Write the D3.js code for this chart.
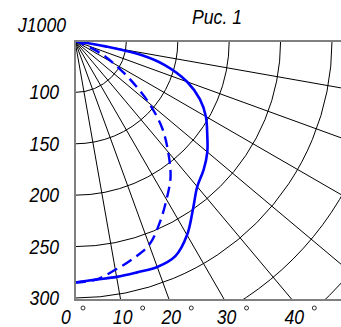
<!DOCTYPE html>
<html>
<head>
<meta charset="utf-8">
<script src="https://cdn.jsdelivr.net/npm/d3@7"></script>
<style>
  body { margin: 0; background: #fff; }
  text { font-family: "Liberation Sans", Arial, sans-serif; font-style: italic; fill: #000; }
</style>
</head>
<body>
<div id="chart"></div>
<script>
// углы (град от вертикали) и значения силы света
var solidAngles = [0, 5, 10, 15, 20, 25, 30, 35, 40, 45, 50, 55, 60, 65, 70, 75, 78, 80, 90];
var solidValues = [285, 283, 283, 283, 284, 281, 268, 250, 235, 227, 218, 207, 197, 184, 166, 140, 116, 80, 50];

var dashAngles = [0, 5, 10, 15, 20, 25, 30, 35, 40, 45, 50, 55, 60, 65, 70, 90];
var dashValues = [285, 283, 276, 269, 261, 245, 228, 212, 191, 170, 144, 116, 93, 75, 55, 50];

var radiusTicks = [100, 150, 200, 250, 300];
var arcValues = [100, 150, 200, 250, 300, 350, 400, 450];
var rayAngles = [0, 10, 20, 30, 40, 50, 60, 70, 80, 90];
var angleTicks = [0, 10, 20, 30, 40];

var width = 341, height = 327;
var ox = 75, oy = 41;          // полюс диаграммы
var frameW = 266, frameH = 259;
var sx = 0.84;                 // сжатие шрифта (узкий)

var svg = d3.select("#chart").append("svg")
    .attr("width", width)
    .attr("height", height);

// радиальная шкала
var r = d3.scaleLinear().domain([50, 300]).range([0, 257]);
// угол: 0 - вниз, 90 - вправо (в терминах lineRadial)
var a = d3.scaleLinear().domain([0, 90]).range([Math.PI, Math.PI / 2]);

svg.append("defs").append("clipPath").attr("id", "clip")
    .append("rect")
    .attr("x", 0).attr("y", 0)
    .attr("width", frameW).attr("height", frameH);

var g = svg.append("g").attr("transform", "translate(" + ox + "," + oy + ")");
var plot = g.append("g").attr("clip-path", "url(#clip)");

// дуги
plot.selectAll("path.arc")
    .data(arcValues)
    .enter()
    .append("path")
    .attr("class", "arc")
    .attr("d", function (d) {
        var p = d3.path();
        p.arc(0, 0, r(d), 0, Math.PI / 2);
        return p.toString();
    })
    .attr("fill", "none")
    .attr("stroke", "#000")
    .attr("stroke-width", 1);

// лучи
plot.selectAll("line.ray")
    .data(rayAngles)
    .enter()
    .append("line")
    .attr("class", "ray")
    .attr("x1", 0).attr("y1", 0)
    .attr("x2", function (d) { return 600 * Math.sin(a(d)); })
    .attr("y2", function (d) { return -600 * Math.cos(a(d)); })
    .attr("stroke", "#000")
    .attr("stroke-width", 1);

var line = d3.lineRadial()
    .curve(d3.curveCatmullRom.alpha(0.5));

plot.append("path")
    .datum(solidAngles.map(function (d, i) { return [a(d), r(solidValues[i])]; }))
    .attr("d", line)
    .attr("fill", "none")
    .attr("stroke", "#0000ff")
    .attr("stroke-width", 2.6);

plot.append("path")
    .datum(dashAngles.map(function (d, i) { return [a(d), r(dashValues[i])]; }))
    .attr("d", line)
    .attr("fill", "none")
    .attr("stroke", "#0000ff")
    .attr("stroke-width", 2.4)
    .attr("stroke-dasharray", "11,6");

// рамка
g.append("path")
    .attr("d", "M" + frameW + ",0H0V" + frameH + "H" + frameW)
    .attr("fill", "none")
    .attr("stroke", "#808080")
    .attr("stroke-width", 2);

function label(parent, x, y, anchor, size, txt) {
    return parent.append("text")
        .attr("transform", "translate(" + x + "," + y + ") scale(" + sx + ",1)")
        .attr("text-anchor", anchor)
        .attr("font-size", size)
        .text(txt);
}

// подписи радиальной шкалы
radiusTicks.forEach(function (d) {
    label(g, -16, r(d) + 7, "end", 21, d);
});

label(g, -9, -9, "end", 21, "J1000");

// подписи углов
angleTicks.forEach(function (d) {
    var x = frameH * Math.tan(d * Math.PI / 180);
    var cx = d === 0 ? x - 9 : x + 2;
    label(g, cx, frameH + 24, "middle", 21, d);
    g.append("circle")
        .attr("cx", cx + (d === 0 ? 17 : 20))
        .attr("cy", frameH + 8)
        .attr("r", 2)
        .attr("fill", "none")
        .attr("stroke", "#000")
        .attr("stroke-width", 0.8);
});

label(svg, 217, 24, "middle", 21, "Рис. 1");
</script>
</body>
</html>
